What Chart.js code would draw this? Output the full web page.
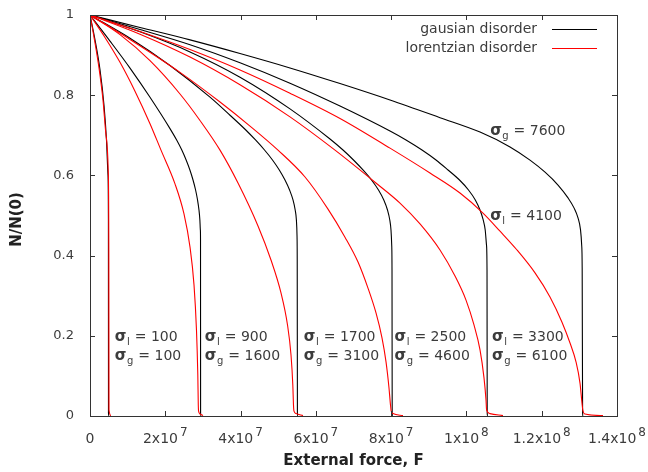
<!DOCTYPE html>
<html><head><meta charset="utf-8">
<script src="https://cdn.jsdelivr.net/npm/chart.js@4.4.1/dist/chart.umd.min.js"></script>
<style>html,body{margin:0;padding:0;background:#fff;} #wrap{width:648px;height:472px;}</style>
</head><body><div id="wrap"><canvas id="c" width="648" height="472"></canvas></div>
<script>
// ---- data (force F in units of 1e6, N/N(0) dimensionless) ----
const forceUnit = 1e6;

// gaussian disorder
const g100F  = [0, 1.33, 2.66, 3.72, 4.38, 4.78, 4.89, 4.91, 5.05];
const g100N  = [1, 0.938, 0.863, 0.775, 0.688, 0.601, 0.489, 0.0075, 0];
const g1600F = [0, 5.31, 10.63, 15.94, 21.25, 23.02, 24.39, 25.54, 26.54, 27.37, 28.05, 28.57, 28.95, 29.19, 29.32, 29.36, 29.38, 29.49];
const g1600N = [1, 0.935, 0.8676, 0.7948, 0.7167, 0.6883, 0.6633, 0.6384, 0.6135, 0.5885, 0.5636, 0.5387, 0.5137, 0.4888, 0.4638, 0.4389, 0.0075, 0];
const g3100F = [0, 10.63, 21.25, 31.88, 37.19, 41.39, 43.97, 46.36, 48.48, 50.29, 51.80, 53.02, 53.93, 54.51, 54.83, 54.99, 55.05, 55.10, 55.20];
const g3100N = [1, 0.942, 0.874, 0.795, 0.750, 0.7132, 0.6883, 0.6633, 0.6384, 0.6135, 0.5885, 0.5636, 0.5387, 0.5137, 0.4888, 0.4514, 0.389, 0.0075, 0];
const g4600F = [0, 13.28, 26.57, 39.85, 53.13, 63.76, 67.21, 70.0, 72.52, 74.78, 76.64, 78.05, 79.03, 79.64, 79.96, 80.15, 80.23, 80.28, 80.39];
const g4600N = [1, 0.958, 0.908, 0.845, 0.766, 0.6908, 0.6633, 0.6384, 0.6135, 0.5885, 0.5636, 0.5387, 0.5137, 0.4888, 0.4638, 0.4264, 0.3641, 0.0075, 0];
const g6100F = [0, 13.28, 26.57, 39.85, 53.13, 66.42, 79.70, 83.95, 88.20, 91.92, 95.11, 98.16, 100.55, 102.36, 103.61, 104.46, 104.99, 105.33, 105.47, 105.52, 105.63];
const g6100N = [1, 0.964, 0.926, 0.881, 0.830, 0.773, 0.7107, 0.6883, 0.6633, 0.6384, 0.6135, 0.5885, 0.5636, 0.5387, 0.5137, 0.4888, 0.4638, 0.4264, 0.3641, 0.0075, 0];
const g7600F = [0, 13.28, 26.57, 39.85, 53.13, 66.42, 79.70, 92.98, 103.61, 111.58, 116.89, 120.88, 124.33, 126.99, 128.58, 129.64, 130.31, 130.62, 130.75, 130.86, 130.97];
const g7600N = [1, 0.969, 0.938, 0.904, 0.868, 0.829, 0.788, 0.744, 0.708, 0.671, 0.638, 0.608, 0.576, 0.544, 0.519, 0.494, 0.464, 0.426, 0.369, 0.0075, 0];

// lorentzian disorder
const l100F  = [0, 1.06, 2.39, 3.45, 4.25, 4.84, 5.0, 5.05, 5.58];
const l100N  = [1, 0.945, 0.868, 0.788, 0.701, 0.613, 0.414, 0.015, 0.001];
const l900F  = [0, 3.98, 7.97, 11.95, 15.94, 18.86, 22.58, 24.97, 26.57, 27.63, 28.29, 28.64, 28.77, 28.85, 29.22, 30.02];
const l900N  = [1, 0.944, 0.882, 0.810, 0.729, 0.663, 0.579, 0.504, 0.421, 0.327, 0.214, 0.102, 0.027, 0.012, 0.005, 0.001];
const l1700F = [0, 7.97, 15.94, 23.91, 29.22, 34.54, 39.32, 44.63, 48.08, 50.74, 52.47, 53.40, 53.88, 54.06, 54.19, 54.73, 56.58];
const l1700N = [1, 0.951, 0.886, 0.803, 0.737, 0.663, 0.581, 0.474, 0.389, 0.307, 0.227, 0.152, 0.077, 0.027, 0.012, 0.006, 0.001];
const l2500F = [0, 10.63, 23.91, 34.54, 42.51, 49.94, 57.12, 63.23, 67.74, 71.20, 73.85, 75.98, 77.57, 78.64, 79.43, 79.83, 80.02, 80.49, 83.15];
const l2500N = [1, 0.939, 0.857, 0.783, 0.723, 0.663, 0.596, 0.516, 0.446, 0.384, 0.319, 0.257, 0.195, 0.135, 0.070, 0.027, 0.012, 0.006, 0.001];
const l3300F = [0, 13.28, 26.57, 39.85, 53.13, 65.09, 75.71, 82.35, 87.67, 92.98, 96.97, 99.89, 102.01, 103.61, 104.67, 105.20, 105.36, 106.26, 109.72];
const l3300N = [1, 0.952, 0.895, 0.826, 0.746, 0.663, 0.583, 0.531, 0.479, 0.414, 0.349, 0.289, 0.227, 0.165, 0.095, 0.040, 0.015, 0.006, 0.001];
const l4100F = [0, 13.28, 26.57, 39.85, 53.13, 66.42, 79.70, 90.32, 98.29, 104.40, 108.92, 113.44, 118.22, 122.20, 125.39, 127.52, 129.11, 130.17, 130.70, 130.91, 131.50, 136.28];
const l4100N = [1, 0.959, 0.914, 0.863, 0.805, 0.742, 0.668, 0.606, 0.556, 0.506, 0.461, 0.414, 0.357, 0.297, 0.234, 0.182, 0.135, 0.082, 0.032, 0.015, 0.005, 0.001];

// axes
const xMin = 0, xMax = 1.4e8, xStep = 2e7;
const yMin = 0, yMax = 1, yStep = 0.2;
const xTickBase = ['0', '2x10', '4x10', '6x10', '8x10', '1x10', '1.2x10', '1.4x10'];
const xTickExp  = ['',  '7',    '7',    '7',    '7',    '8',    '8',      '8'];
const yTickLabels = ['0', '0.2', '0.4', '0.6', '0.8', '1'];
const xTitle = 'External force, F';
const yTitle = 'N/N(0)';
const legendNames = ['gausian disorder', 'lorentzian disorder'];

// annotation texts
const pairSigmaL = ['100', '900', '1700', '2500', '3300'];
const pairSigmaG = ['100', '1600', '3100', '4600', '6100'];
const topSigmaG = '7600';
const topSigmaL = '4100';

// ---- build ----
function pts(F, N) { return F.map((f, i) => ({ x: f * forceUnit, y: N[i] })); }
const BLACK = '#000000', RED = '#ff0000';
const redSeries = [[l100F,l100N],[l900F,l900N],[l1700F,l1700N],[l2500F,l2500N],[l3300F,l3300N],[l4100F,l4100N]];
const blackSeries = [[g100F,g100N],[g1600F,g1600N],[g3100F,g3100N],[g4600F,g4600N],[g6100F,g6100N],[g7600F,g7600N]];
const datasets = [];
redSeries.forEach(s => datasets.push({ data: pts(s[0], s[1]), borderColor: RED }));
blackSeries.forEach(s => datasets.push({ data: pts(s[0], s[1]), borderColor: BLACK }));
datasets.forEach(d => Object.assign(d, { showLine: true, borderWidth: 1.1, pointRadius: 0, fill: false, cubicInterpolationMode: 'monotone' }));

const TXT = '#3c3c3c';
const FONT = '"DejaVu Sans", sans-serif';

function drawSigma(ctx, x, y, sub, value) {
  ctx.save();
  ctx.fillStyle = TXT;
  ctx.textAlign = 'left';
  ctx.textBaseline = 'alphabetic';
  ctx.font = 'bold 15px ' + FONT;
  ctx.fillText('σ', x, y);
  let w = ctx.measureText('σ').width;
  ctx.font = '10px ' + FONT;
  ctx.fillText(sub, x + w + 0.5, y + 4);
  let w2 = ctx.measureText(sub).width;
  ctx.font = '14px ' + FONT;
  ctx.fillText(' = ' + value, x + w + w2 + 1, y);
  ctx.restore();
}

const deco = {
  id: 'deco',
  afterDatasetsDraw(chart) {
    const { ctx, chartArea: a, scales: { x, y } } = chart;
    ctx.save();
    // border
    ctx.strokeStyle = '#333';
    ctx.lineWidth = 1;
    ctx.strokeRect(a.left + 0.5, a.top + 0.5, a.right - a.left, a.bottom - a.top);
    // ticks
    const tl = 5;
    ctx.beginPath();
    for (let i = 0; i < xTickBase.length; i++) {
      const px = Math.round(x.getPixelForValue(xMin + i * xStep)) + 0.5;
      ctx.moveTo(px, a.bottom); ctx.lineTo(px, a.bottom - tl);
      ctx.moveTo(px, a.top); ctx.lineTo(px, a.top + tl);
    }
    for (let i = 0; i < yTickLabels.length; i++) {
      const py = Math.round(y.getPixelForValue(yMin + i * yStep)) + 0.5;
      ctx.moveTo(a.left, py); ctx.lineTo(a.left + tl, py);
      ctx.moveTo(a.right, py); ctx.lineTo(a.right - tl, py);
    }
    ctx.stroke();
    // x tick labels
    ctx.fillStyle = TXT;
    ctx.textBaseline = 'alphabetic';
    ctx.textAlign = 'left';
    xTickBase.forEach((b, i) => {
      const px = x.getPixelForValue(xMin + i * xStep);
      ctx.font = '14px ' + FONT;
      const wb = ctx.measureText(b).width;
      ctx.font = '12px ' + FONT;
      const we = xTickExp[i] ? ctx.measureText(xTickExp[i]).width + 2 : 0;
      const sx = px - (wb + we) / 2;
      ctx.font = '14px ' + FONT;
      ctx.fillText(b, sx, a.bottom + 27);
      if (xTickExp[i]) { ctx.font = '12px ' + FONT; ctx.fillText(xTickExp[i], sx + wb + 2, a.bottom + 20); }
    });
    // y tick labels
    ctx.font = '13px ' + FONT;
    ctx.textAlign = 'right';
    ctx.textBaseline = 'middle';
    yTickLabels.forEach((t, i) => {
      ctx.fillText(t, a.left - 16, y.getPixelForValue(yMin + i * yStep));
    });
    // titles
    ctx.fillStyle = '#222';
    ctx.font = 'bold 15px ' + FONT;
    ctx.textAlign = 'center';
    ctx.fillText(xTitle, (a.left + a.right) / 2, 461);
    ctx.save();
    ctx.translate(17, (a.top + a.bottom) / 2 + 4);
    ctx.rotate(-Math.PI / 2);
    ctx.fillText(yTitle, 0, 0);
    ctx.restore();
    // legend
    ctx.font = '14px ' + FONT;
    ctx.fillStyle = TXT;
    ctx.textAlign = 'right';
    ctx.textBaseline = 'middle';
    const lx = a.right - 80;
    [[legendNames[0], BLACK, a.top + 14], [legendNames[1], RED, a.top + 33]].forEach(([t, c, ly]) => {
      ctx.fillText(t, lx, ly);
      ctx.strokeStyle = c; ctx.lineWidth = 1;
      ctx.beginPath(); ctx.moveTo(lx + 15, Math.round(ly) + 0.5); ctx.lineTo(lx + 60, Math.round(ly) + 0.5); ctx.stroke();
    });
    // annotations
    const anchorF = [6.6e6, 30.5e6, 56.8e6, 80.9e6, 106.8e6];
    pairSigmaL.forEach((v, i) => {
      const px = x.getPixelForValue(anchorF[i]);
      drawSigma(ctx, px, y.getPixelForValue(0.2) + 5, 'l', v);
      drawSigma(ctx, px, y.getPixelForValue(0.152) + 5, 'g', pairSigmaG[i]);
    });
    drawSigma(ctx, x.getPixelForValue(106.3e6), y.getPixelForValue(0.711) + 4, 'g', topSigmaG);
    drawSigma(ctx, x.getPixelForValue(106.3e6), y.getPixelForValue(0.5) + 4, 'l', topSigmaL);
    ctx.restore();
  }
};

new Chart(document.getElementById('c'), {
  type: 'scatter',
  data: { datasets },
  options: {
    responsive: false, animation: false, devicePixelRatio: 1,
    layout: { padding: { top: 15, right: 31, left: 0, bottom: 0 } },
    plugins: { legend: { display: false }, tooltip: { enabled: false } },
    scales: {
      x: { type: 'linear', min: xMin, max: xMax, ticks: { display: false, stepSize: xStep }, grid: { display: false }, border: { display: false }, afterFit(s) { s.height = 56; } },
      y: { type: 'linear', min: yMin, max: yMax, ticks: { display: false, stepSize: yStep }, grid: { display: false }, border: { display: false }, afterFit(s) { s.width = 90; } }
    }
  },
  plugins: [deco]
});
</script>
</body></html>
